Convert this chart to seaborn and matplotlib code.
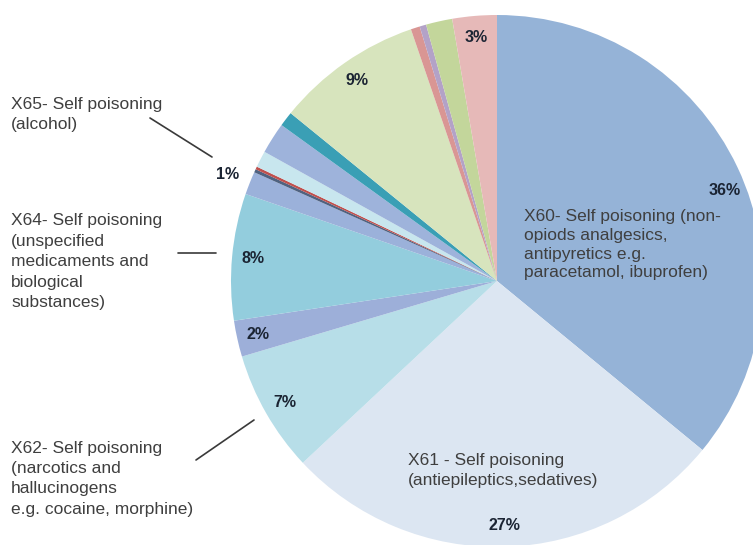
import numpy as np
import matplotlib
matplotlib.use("Agg")
import matplotlib.pyplot as plt
import seaborn as sns

sns.set_theme(style="white")
plt.rcParams["font.family"] = ["Liberation Sans", "DejaVu Sans"]

# Share of self-poisoning cases by ICD-10 code group (%), clockwise from 12 o'clock
shares = [36.0, 27.1, 7.4, 2.2, 7.7, 1.4, 0.2, 0.17, 1.0, 1.9, 0.9, 8.9, 0.55, 0.4, 1.6, 2.7]
slice_colors = ["#95B3D7", "#DCE6F2", "#B7DEE8", "#9DAFD9", "#93CDDD", "#9BB1DA",
                "#4F6280", "#C0504D", "#C8E6EE", "#9EB3DB", "#3A9FB5", "#D7E4BD",
                "#D99694", "#B3A2C7", "#C3D69B", "#E6B9B8"]
# slices whose share is printed on the chart
labelled = [0, 1, 2, 3, 4, 5, 11, 15]

x60_lines = ["X60- Self poisoning (non-", "opiods analgesics,", "antipyretics e.g.",
             "paracetamol, ibuprofen)"]
x61_lines = ["X61 - Self poisoning", "(antiepileptics,sedatives)"]
x65_lines = ["X65- Self poisoning", "(alcohol)"]
x64_lines = ["X64- Self poisoning", "(unspecified", "medicaments and", "biological",
             "substances)"]
x62_lines = ["X62- Self poisoning", "(narcotics and", "hallucinogens",
             "e.g. cocaine, morphine)"]

W, H = 753, 545
cx, cy, rad = 497, 281, 266  # pie centre and radius in pixels (top-left origin)

fig = plt.figure(figsize=(W / 100, H / 100), dpi=100)
ax = fig.add_axes([0, 0, 1, 1])
wedges, _ = ax.pie(shares, colors=slice_colors, startangle=90, counterclock=False,
                   radius=1.0, wedgeprops=dict(linewidth=0))
ax.set_aspect("auto")
ax.set_xlim(-cx / rad, (W - cx) / rad)
ax.set_ylim(-(H - cy) / rad, cy / rad)
ax.axis("off")

pct_color = "#1B2433"
txt_color = "#3F3F3F"

# radial distance and angular nudge (deg) for the share labels
label_dist = {5: 1.09}
label_turn = {0: -3.5}

for i in labelled:
    w = wedges[i]
    ang = np.deg2rad((w.theta1 + w.theta2) / 2 + label_turn.get(i, 0))
    d = label_dist.get(i, 0.92)
    ax.text(d * np.cos(ang), d * np.sin(ang), f"{round(shares[i])}%",
            ha="center", va="center", fontsize=11.5, fontweight="bold", color=pct_color)


def px(x, y):
    return x / W, 1 - y / H


def block(lines, x, y0, step, size=12.5):
    for k, s in enumerate(lines):
        fig.text(*px(x, y0 + k * step), s, ha="left", va="center",
                 fontsize=size, color=txt_color)


block(x60_lines, 524, 216, 19)
block(x61_lines, 408, 461, 20)
block(x65_lines, 11, 104, 20)
block(x64_lines, 11, 221, 20.5)
block(x62_lines, 11, 448, 20.5)


def leader(x0, y0, x1, y1):
    fig.add_artist(plt.Line2D([x0 / W, x1 / W], [1 - y0 / H, 1 - y1 / H],
                              transform=fig.transFigure, color="#3A3A3A", lw=1.2))


leader(150, 118, 212, 157)
leader(178, 253, 216, 253)
leader(196, 460, 254, 420)

fig.savefig("out.png", dpi=100)
